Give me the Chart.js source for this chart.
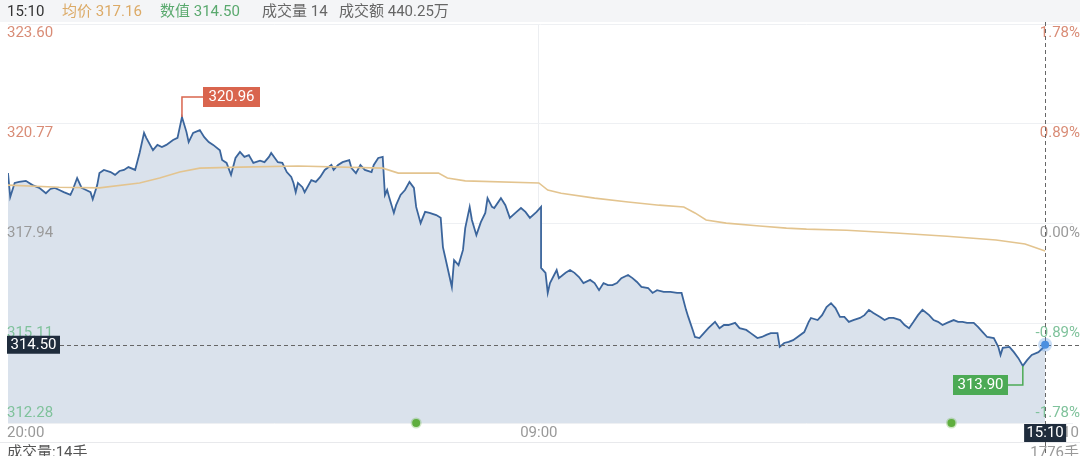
<!DOCTYPE html>
<html>
<head>
<meta charset="utf-8">
<script src="https://cdn.jsdelivr.net/npm/chart.js@4"></script>
<style>
  html, body { margin: 0; padding: 0; background: #fff; }
  canvas { display: block; }
</style>
</head>
<body>
<canvas id="c" width="1080" height="456"></canvas>
<script>
// 分时数据 (minute index from session start, price)
const priceMinutes = [0,1,3,5,8,11,14,17,19,21,23,25,28,29,31,33,35,37,38,40,41,43,46,48,50,52,54,57,59,61,62,65,67,69,71,74,76,78,80,81,83,86,88,90,92,95,96,98,100,102,104,106,108,110,113,115,117,118,121,123,125,127,128,129,130,132,133,136,138,140,142,145,146,148,150,153,154,156,158,160,163,164,166,168,169,170,171,173,174,176,178,180,182,183,185,187,189,192,194,195,196,199,200,202,204,205,207,208,210,212,214,215,217,218,221,223,225,228,230,232,234,237,239,239,241,242,243,246,247,250,252,254,256,258,261,263,265,267,269,271,273,275,278,280,282,284,287,289,291,294,297,300,302,304,305,307,308,310,312,314,317,319,321,323,326,328,331,333,336,338,340,342,345,346,348,350,352,354,357,359,360,363,365,367,369,371,373,375,377,379,382,384,386,388,391,393,395,397,400,402,404,406,408,410,413,415,417,419,421,424,426,428,430,433,435,437,439,442,444,445,446,449,451,453,455,457,459,462,464,465];
const prices = [319.37,318.69,319.09,319.12,319.15,319.03,318.95,318.80,318.92,318.95,318.89,318.83,318.75,318.89,319.23,318.95,318.89,318.83,318.63,319.03,319.37,319.46,319.40,319.32,319.43,319.46,319.54,319.46,319.94,320.51,320.37,320.02,320.17,320.11,320.17,320.31,320.37,320.96,320.54,320.25,320.51,320.59,320.39,320.25,320.17,320.02,319.74,319.66,319.32,319.80,319.97,319.83,319.88,319.66,319.72,319.68,319.83,319.94,319.68,319.66,319.40,319.26,319.09,318.83,319.09,318.97,318.83,319.17,319.12,319.26,319.46,319.60,319.46,319.60,319.68,319.74,319.51,319.37,319.60,319.46,319.40,319.60,319.80,319.83,318.75,318.89,318.66,318.24,318.46,318.75,318.89,319.12,318.95,318.41,317.95,318.27,318.24,318.18,318.10,317.27,316.99,316.14,316.90,316.76,317.19,317.81,318.41,318.04,317.61,317.98,318.24,318.66,318.41,318.38,318.66,318.46,318.10,318.27,318.38,318.27,318.10,318.27,318.41,316.68,316.54,315.97,316.25,316.62,316.39,316.54,316.62,316.54,316.42,316.25,316.34,316.25,316.05,316.25,316.19,316.19,316.25,316.39,316.48,316.39,316.28,316.14,316.11,315.97,316.05,316.00,316.00,315.97,315.97,315.49,315.29,314.92,314.72,314.69,314.83,314.97,315.15,314.97,315.06,315.06,315.12,314.97,314.92,314.83,314.69,314.72,314.78,314.83,314.83,314.44,314.55,314.58,314.63,314.72,314.86,315.15,315.26,315.20,315.34,315.57,315.68,315.54,315.29,315.29,315.15,315.20,315.26,315.34,315.49,315.40,315.29,315.20,315.26,315.26,315.20,315.06,314.97,315.15,315.34,315.49,315.34,315.20,315.15,315.06,315.12,315.20,315.15,315.15,315.12,315.12,315.00,314.86,314.72,314.69,314.44,314.21,314.41,314.44,314.29,314.12,313.90,314.07,314.21,314.29,314.41,314.50];

// 均价
const avgMinutes = [0,23,41,59,68,77,86,104,130,168,175,193,197,205,238,242,248,263,278,292,303,308,313,322,337,349,358,376,398,421,443,456,465];
const avgPrices = [319.03,318.97,318.95,319.09,319.23,319.40,319.51,319.54,319.57,319.51,319.37,319.37,319.23,319.15,319.09,318.89,318.80,318.66,318.55,318.46,318.41,318.24,318.04,317.95,317.87,317.81,317.78,317.75,317.67,317.58,317.47,317.36,317.16];

// 事件点
const eventMinutes = [183, 423];

const yTicks = [312.28, 315.11, 317.94, 320.77, 323.60];
const pctLabels = ['-1.78%', '-0.89%', '0.00%', '0.89%', '1.78%'];
const tickColors = ['#7fc29b', '#7fc29b', '#9a9a9a', '#d98c76', '#d98c76'];
const openMinute = 238;
const lastMinute = 465;
const lastPrice = 314.50;
const highPrice = 320.96, highMinute = 78;
const lowPrice = 313.90, lowMinute = 455;

const FONT = 'Roboto, "Noto Sans CJK SC", sans-serif';

function toPts(xs, ys) { return xs.map((x, i) => ({ x: x, y: ys[i] })); }

const overlay = {
  id: 'overlay',
  beforeDraw(chart) {
    const ctx = chart.ctx;
    ctx.save();
    ctx.fillStyle = '#ffffff';
    ctx.fillRect(0, 0, chart.width, chart.height);
    ctx.fillStyle = '#f4f5f7';
    ctx.fillRect(0, 0, chart.width, 22);
    ctx.restore();
  },
  afterDraw(chart) {
    const ctx = chart.ctx;
    const xs = chart.scales.x, ys = chart.scales.y;
    ctx.save();
    ctx.font = '15px ' + FONT;

    // header
    ctx.textBaseline = 'middle';
    ctx.textAlign = 'left';
    ctx.fillStyle = '#333';
    ctx.fillText('15:10', 7, 12);
    ctx.fillStyle = '#dcaa66';
    ctx.fillText('均价 317.16', 62, 12);
    ctx.fillStyle = '#5aa96e';
    ctx.fillText('数值 314.50', 160, 12);
    ctx.fillStyle = '#666';
    ctx.fillText('成交量 14', 262, 12);
    ctx.fillText('成交额 440.25万', 339, 12);

    // y labels
    yTicks.forEach((v, i) => {
      const py = ys.getPixelForValue(v);
      ctx.fillStyle = tickColors[i];
      ctx.textBaseline = i === 0 ? 'bottom' : 'top';
      const ty = i === 0 ? py - 2 : py + 2;
      ctx.textAlign = 'left';
      ctx.fillText(v.toFixed(2), 7, ty);
      ctx.textAlign = 'right';
      ctx.fillText(pctLabels[i], 1080, ty);
    });

    // x labels
    ctx.textBaseline = 'middle';
    ctx.fillStyle = '#999';
    ctx.textAlign = 'left';
    ctx.fillText('20:00', 7, 433);
    ctx.textAlign = 'center';
    ctx.fillText('09:00', xs.getPixelForValue(openMinute), 433);
    ctx.textAlign = 'right';
    ctx.fillText('15:10', 1079, 433);

    // separator and volume line
    ctx.strokeStyle = '#e8e9ec';
    ctx.lineWidth = 1;
    ctx.beginPath();
    ctx.moveTo(0, 442.5);
    ctx.lineTo(chart.width, 442.5);
    ctx.stroke();
    ctx.textBaseline = 'top';
    ctx.textAlign = 'left';
    ctx.fillStyle = '#555';
    ctx.fillText('成交量:14手', 7, 446);
    ctx.textAlign = 'right';
    ctx.fillStyle = '#999';
    ctx.fillText('1776手', 1079, 446);

    const lx = xs.getPixelForValue(lastMinute);
    const ly = ys.getPixelForValue(lastPrice);

    // crosshair
    ctx.setLineDash([4, 3]);
    ctx.strokeStyle = '#666';
    ctx.beginPath();
    ctx.moveTo(60, Math.round(ly) + 0.5);
    ctx.lineTo(chart.width, Math.round(ly) + 0.5);
    ctx.moveTo(Math.round(lx) + 0.5, 22);
    ctx.lineTo(Math.round(lx) + 0.5, chart.height);
    ctx.stroke();
    ctx.setLineDash([]);

    // price box on left
    ctx.fillStyle = '#1f2c3c';
    ctx.fillRect(7, ly - 9, 53, 18);
    ctx.fillStyle = '#fff';
    ctx.textBaseline = 'middle';
    ctx.textAlign = 'center';
    ctx.fillText(lastPrice.toFixed(2), 33.5, ly);

    // time box at bottom
    ctx.fillStyle = '#1f2c3c';
    ctx.fillRect(lx - 21, 424, 42, 18);
    ctx.fillStyle = '#fff';
    ctx.fillText('15:10', lx, 433);

    // last point
    ctx.fillStyle = 'rgba(74,143,224,0.3)';
    ctx.beginPath(); ctx.arc(lx, ly, 7, 0, Math.PI * 2); ctx.fill();
    ctx.fillStyle = '#4a8fe0';
    ctx.beginPath(); ctx.arc(lx, ly, 4, 0, Math.PI * 2); ctx.fill();

    // high marker
    const hx = xs.getPixelForValue(highMinute), hy = ys.getPixelForValue(highPrice);
    ctx.strokeStyle = '#d9654e';
    ctx.lineWidth = 1.5;
    ctx.beginPath();
    ctx.moveTo(hx, hy);
    ctx.lineTo(hx, 97);
    ctx.lineTo(203, 97);
    ctx.stroke();
    ctx.fillStyle = '#d9654e';
    ctx.fillRect(203, 87, 57, 20);
    ctx.fillStyle = '#fff';
    ctx.fillText(highPrice.toFixed(2), 231.5, 97.5);

    // low marker
    const mx = xs.getPixelForValue(lowMinute), my = ys.getPixelForValue(lowPrice);
    ctx.strokeStyle = '#4caa55';
    ctx.beginPath();
    ctx.moveTo(mx, my);
    ctx.lineTo(mx, 385);
    ctx.lineTo(1007, 385);
    ctx.stroke();
    ctx.fillStyle = '#4caa55';
    ctx.fillRect(953, 375, 55, 20);
    ctx.fillStyle = '#fff';
    ctx.fillText(lowPrice.toFixed(2), 980.5, 385.5);

    ctx.restore();
  }
};

new Chart(document.getElementById('c'), {
  type: 'line',
  data: {
    datasets: [
      {
        label: '均价',
        data: toPts(avgMinutes, avgPrices),
        borderColor: '#e3c48f',
        borderWidth: 1.6,
        pointRadius: 0,
        fill: false,
        tension: 0,
        order: 1
      },
      {
        label: '数值',
        data: toPts(priceMinutes, prices),
        borderColor: '#3b659c',
        borderWidth: 1.8,
        pointRadius: 0,
        fill: 'start',
        backgroundColor: '#dae2ec',
        tension: 0,
        order: 2
      },
      {
        label: '事件',
        type: 'scatter',
        data: eventMinutes.map(m => ({ x: m, y: yTicks[0] })),
        pointRadius: 4,
        pointBackgroundColor: '#5fae3e',
        pointBorderColor: 'rgba(95,174,62,0.3)',
        pointBorderWidth: 3,
        clip: false,
        order: 0
      }
    ]
  },
  options: {
    responsive: false,
    animation: false,
    devicePixelRatio: 1,
    layout: { padding: { left: 8, right: 2, top: 24, bottom: 33 } },
    plugins: { legend: { display: false }, tooltip: { enabled: false } },
    scales: {
      x: {
        type: 'linear',
        min: 0,
        max: 477.5,
        afterBuildTicks: s => { s.ticks = [{ value: openMinute }]; },
        ticks: { display: false },
        grid: { color: '#eceef1', drawTicks: false },
        border: { display: false }
      },
      y: {
        min: yTicks[0],
        max: yTicks[yTicks.length - 1],
        afterBuildTicks: s => { s.ticks = yTicks.map(v => ({ value: v })); },
        ticks: { display: false },
        grid: { color: '#eef0f3', drawTicks: false },
        border: { display: false }
      }
    }
  },
  plugins: [overlay]
});
</script>
</body>
</html>
